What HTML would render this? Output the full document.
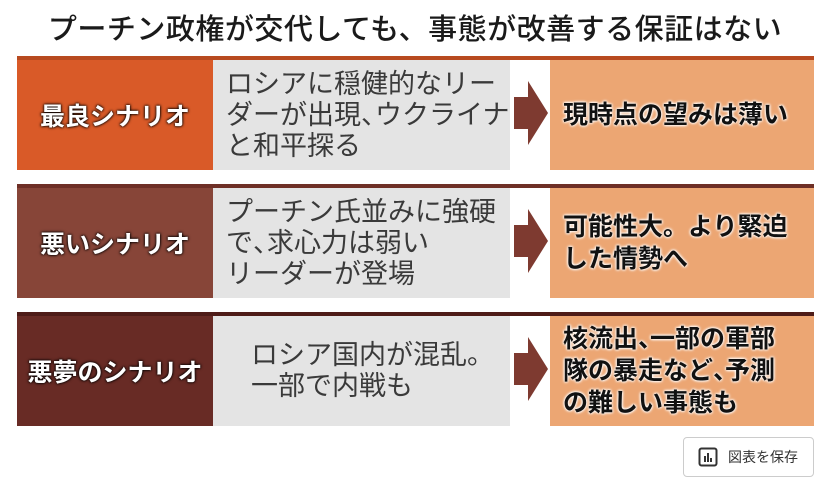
<!DOCTYPE html>
<html><head><meta charset="utf-8"><style>
*{margin:0;padding:0;box-sizing:border-box}
body{width:830px;height:488px;background:#fff;position:relative;overflow:hidden;font-family:"Liberation Sans","Noto Sans CJK JP",sans-serif}
.title{position:absolute;left:0;width:830px;top:6px;text-align:center;font-size:29px;font-weight:500;color:#1a1a1a;letter-spacing:0.5px}
.row{position:absolute;left:17px;width:797px;height:114px}
.bar{position:absolute;left:0;top:0;width:797px;height:4px}
.lab{position:absolute;left:0;top:4px;width:196px;bottom:0;color:#fff;font-weight:bold;font-size:25px;display:flex;align-items:center;justify-content:center;text-shadow:0 0 3px #000,0 0 2px #000}
.mid{position:absolute;left:196px;top:4px;width:297px;bottom:0;background:#e4e4e4;color:#3a3a3a;font-size:27px;line-height:31px;padding-left:13px;white-space:nowrap;overflow:hidden;display:flex;flex-direction:column;justify-content:center}
.p{letter-spacing:-13px}
.arr{position:absolute;left:497px;top:50%;margin-top:-32px}
.res{position:absolute;left:533px;top:4px;right:0;bottom:0;background:#eca673;color:#111;font-weight:bold;font-size:25px;line-height:32px;padding-left:13px;white-space:nowrap;display:flex;flex-direction:column;justify-content:center;text-shadow:0 0 3px #fff,0 0 3px #fff,0 0 2px #fff}
.btn{position:absolute;left:683px;top:437px;width:131px;height:40px;border:1px solid #ccc;border-radius:4px;display:flex;align-items:center;font-size:14px;color:#333}
</style></head><body>
<div class="title">プーチン政権が交代しても、事態が改善する保証はない</div>

<div class="row" style="top:56px">
<div class="bar" style="background:#b84a20"></div>
<div class="lab" style="background:#d95a28">最良シナリオ</div>
<div class="mid"><div>ロシアに穏健的なリー</div><div>ダーが出現<span class="p">、</span>ウクライナ</div><div>と和平探る</div></div>
<svg class="arr" width="36" height="64"><polygon points="0,16 14,16 14,0 34,32 14,64 14,48 0,48" fill="#7e3a30"/></svg>
<div class="res"><div>現時点の望みは薄い</div></div>
</div>

<div class="row" style="top:184px">
<div class="bar" style="background:#6e2f26"></div>
<div class="lab" style="background:#874538">悪いシナリオ</div>
<div class="mid"><div>プーチン氏並みに強硬</div><div>で<span class="p">、</span>求心力は弱い</div><div>リーダーが登場</div></div>
<svg class="arr" width="36" height="64"><polygon points="0,16 14,16 14,0 34,32 14,64 14,48 0,48" fill="#7e3a30"/></svg>
<div class="res"><div>可能性大。より緊迫</div><div>した情勢へ</div></div>
</div>

<div class="row" style="top:312px">
<div class="bar" style="background:#4e1c18"></div>
<div class="lab" style="background:#682b25">悪夢のシナリオ</div>
<div class="mid" style="padding-left:38px"><div>ロシア国内が混乱。</div><div>一部で内戦も</div></div>
<svg class="arr" width="36" height="64"><polygon points="0,16 14,16 14,0 34,32 14,64 14,48 0,48" fill="#7e3a30"/></svg>
<div class="res"><div>核流出<span class="p">、</span>一部の軍部</div><div>隊の暴走など<span class="p">、</span>予測</div><div>の難しい事態も</div></div>
</div>

<div class="btn"><svg style="margin:0 10px 0 14px" width="20" height="20"><rect x="1.5" y="1.5" width="17" height="17" rx="2" fill="none" stroke="#333" stroke-width="2"/><rect x="6" y="9" width="2" height="6" fill="#333"/><rect x="9" y="6" width="2" height="9" fill="#333"/><rect x="12" y="11" width="2" height="4" fill="#333"/></svg>図表を保存</div>
</body></html>
